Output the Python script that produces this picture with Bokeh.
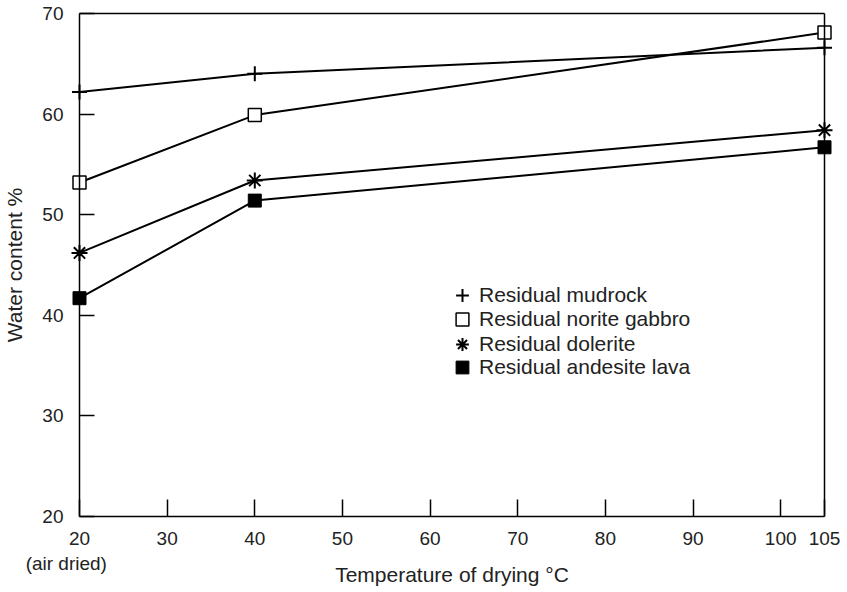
from bokeh.plotting import figure
from bokeh.models import (Range1d, FixedTicker, Legend, LegendItem, LinearAxis)
from bokeh.embed import file_html
from bokeh.resources import INLINE

# Drying temperature (deg C) and water content (%) for each residual soil
temperature = [20, 40, 105]
mudrock = [62.2, 64.0, 66.6]
norite_gabbro = [53.2, 59.9, 68.1]
dolerite = [46.2, 53.4, 58.4]
andesite_lava = [41.7, 51.4, 56.7]

series_names = ["Residual mudrock", "Residual norite gabbro",
                "Residual dolerite", "Residual andesite lava"]
x_ticks = [20, 30, 40, 50, 60, 70, 80, 90, 100, 105]
# trailing no-break spaces nudge the second line to the left of the tick
x_tick_text = {20: "20\n(air dried)" + "\u00a0" * 5}
y_ticks = [20, 30, 40, 50, 60, 70]
X_MIN, X_MAX = 20, 105
Y_MIN, Y_MAX = 20, 70

FONT = "Liberation Sans"
TEXT = "#222222"

# Box of the chart in pixels; the frame is padded so end markers are not clipped
BOX_L, BOX_R, BOX_T, BOX_B = 79, 824, 13, 516
PAD = 9
W, H = 847, 592
ux = (BOX_R - BOX_L) / (X_MAX - X_MIN)
uy = (BOX_B - BOX_T) / (Y_MAX - Y_MIN)

p = figure(width=W, height=H, output_backend="svg", toolbar_location=None,
           x_range=Range1d(X_MIN - PAD / ux, X_MAX + PAD / ux),
           y_range=Range1d(Y_MIN - PAD / uy, Y_MAX + PAD / uy),
           min_border_left=BOX_L - PAD, min_border_right=W - BOX_R - PAD,
           min_border_top=BOX_T - PAD, min_border_bottom=H - BOX_B - PAD)
p.grid.visible = False
p.background_fill_color = "white"
p.border_fill_color = "white"
p.outline_line_color = None


def style_axis(ax):
    ax.axis_line_color = "black"
    ax.axis_line_width = 1.5
    ax.major_tick_line_color = "black"
    ax.major_tick_line_width = 1.5
    ax.major_tick_out = 0
    ax.minor_tick_line_color = None
    ax.major_label_text_font = FONT
    ax.major_label_text_font_size = "19px"
    ax.major_label_text_color = TEXT
    ax.axis_label_text_font = FONT
    ax.axis_label_text_font_size = "21px"
    ax.axis_label_text_font_style = "normal"
    ax.axis_label_text_color = TEXT


# Edge axes carry only the tick labels and titles
xa, ya = p.xaxis[0], p.yaxis[0]
for ax in (xa, ya):
    style_axis(ax)
    ax.axis_line_color = None
    ax.major_tick_line_color = None
xa.ticker = FixedTicker(ticks=x_ticks)
ya.ticker = FixedTicker(ticks=y_ticks)
xa.major_label_overrides = x_tick_text
xa.major_label_standoff = 2
ya.major_label_standoff = 7
xa.axis_label = "Temperature of drying °C"
xa.axis_label_standoff = -14
ya.axis_label = "Water content %"
ya.axis_label_standoff = 13

# Box lines with inward ticks, pinned to the data limits (no labels of their own)
bottom = LinearAxis(fixed_location=Y_MIN, bounds=(X_MIN, X_MAX),
                    ticker=FixedTicker(ticks=x_ticks))
left = LinearAxis(fixed_location=X_MIN, bounds=(Y_MIN, Y_MAX),
                  ticker=FixedTicker(ticks=y_ticks))
top = LinearAxis(fixed_location=Y_MAX, bounds=(X_MIN, X_MAX),
                 ticker=FixedTicker(ticks=[]))
right = LinearAxis(fixed_location=X_MAX, bounds=(Y_MIN, Y_MAX),
                   ticker=FixedTicker(ticks=[]))
for ax in (bottom, left, top, right):
    style_axis(ax)
    ax.major_label_text_font_size = "0px"
    ax.major_label_text_color = None
    ax.major_label_text_alpha = 0
    ax.major_label_standoff = 0
    ax.major_tick_in = 0
bottom.major_tick_in = 17
left.major_tick_in = 15
p.add_layout(bottom, "below")
p.add_layout(left, "left")
p.add_layout(top, "above")
p.add_layout(right, "right")

LW = 2

# Connecting lines
for vals in (mudrock, norite_gabbro, dolerite, andesite_lava):
    p.line(temperature, vals, line_color="black", line_width=LW)

# Point markers
r_mud = p.scatter(temperature, mudrock, marker="cross", size=15,
                  line_color="black", line_width=2)
r_nor = p.scatter(temperature, norite_gabbro, marker="square", size=13,
                  line_color="black", fill_color="white", line_width=1.5)
r_dol = p.scatter(temperature, dolerite, marker="asterisk", size=16,
                  line_color="black", line_width=2)
r_and = p.scatter(temperature, andesite_lava, marker="square", size=13,
                  line_color="black", fill_color="black", line_width=1)

# One legend per row; each marker is drawn at 0.4 of its 32 px glyph box
row_bottoms = [214, 190, 165, 142]
for name, rend, vy in zip(series_names, (r_mud, r_nor, r_dol, r_and),
                          row_bottoms):
    p.add_layout(Legend(
        items=[LegendItem(label=name, renderers=[rend])],
        location=(376, vy),
        background_fill_alpha=0, border_line_color=None,
        padding=0, margin=0, spacing=0,
        glyph_width=32, glyph_height=32, label_height=21, label_standoff=1,
        label_text_font=FONT, label_text_font_size="21px",
        label_text_color=TEXT,
    ))

open("out.html", "w").write(file_html(p, INLINE))
